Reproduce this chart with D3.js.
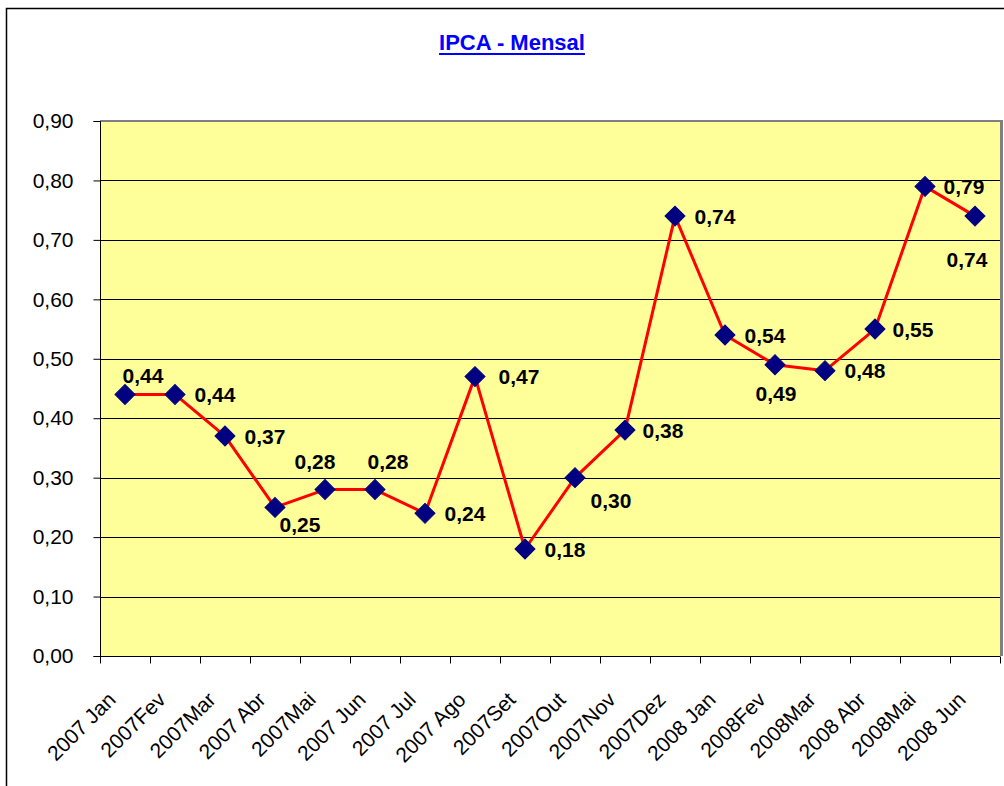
<!DOCTYPE html>
<html>
<head>
<meta charset="utf-8">
<script src="https://cdn.jsdelivr.net/npm/d3@7"></script>
<style>
  html, body { margin: 0; padding: 0; background: #fff; }
  svg { display: block; }
  text { font-family: Arial, "Liberation Sans", sans-serif; }
</style>
</head>
<body>
<script>
// ---- data ----
const categories = ["2007 Jan","2007Fev","2007Mar","2007 Abr","2007Mai","2007 Jun","2007 Jul","2007 Ago","2007Set","2007Out","2007Nov","2007Dez","2008 Jan","2008Fev","2008Mar","2008 Abr","2008Mai","2008 Jun"];
const values = [0.44,0.44,0.37,0.25,0.28,0.28,0.24,0.47,0.18,0.30,0.38,0.74,0.54,0.49,0.48,0.55,0.79,0.74];
const yTicks = [0,0.1,0.2,0.3,0.4,0.5,0.6,0.7,0.8,0.9];
const title = "IPCA - Mensal";
// label placement (layout only): [dx, dy] relative to the marker, label centred
const labelOffset = [[18,-19],[40,0],[40,0],[25,17],[-10,-28],[13,-28],[40,0],[44,0],[40,0],[36,23],[38,0],[40,0],[40,0],[1,29],[40,0],[38,0],[39,0],[-8,43]];

const W = 1004, H = 786;
const svg = d3.select("body").append("svg").attr("width", W).attr("height", H);

// outer frame
svg.append("rect").attr("x", 6.5).attr("y", 8.5).attr("width", 1010).attr("height", 800)
  .attr("fill", "none").attr("stroke", "#000").attr("stroke-width", 1.5);

const x = d3.scaleBand().domain(categories).range([100, 1000]).paddingInner(0).paddingOuter(0);
const y = d3.scaleLinear().domain([0, 0.9]).range([656, 121]);

// plot area
svg.append("rect").attr("x", 100).attr("y", 121).attr("width", 900).attr("height", 535)
  .attr("fill", "#FFFF99");

// gridlines
svg.append("g").selectAll("line").data(yTicks.filter(d => d > 0 && d < 0.9)).join("line")
  .attr("x1", 100).attr("x2", 1000)
  .attr("y1", d => Math.round(y(d)) + 0.5).attr("y2", d => Math.round(y(d)) + 0.5)
  .attr("stroke", "#000").attr("stroke-width", 1);

// top/right gray border
svg.append("line").attr("x1", 100).attr("x2", 1002).attr("y1", 121).attr("y2", 121)
  .attr("stroke", "#808080").attr("stroke-width", 2);
svg.append("line").attr("x1", 1001.5).attr("x2", 1001.5).attr("y1", 120).attr("y2", 656)
  .attr("stroke", "#808080").attr("stroke-width", 3);

// y axis
const yAxis = d3.axisLeft(y).tickValues(yTicks).tickSize(7).tickPadding(20)
  .tickFormat(d => d3.format(".2f")(d).replace(".", ","));
const gy = svg.append("g").attr("transform", "translate(100.5,0)").call(yAxis);
gy.select(".domain").attr("stroke", "#000").attr("d", "M-7,121.5H0V656.5H-7");
gy.selectAll(".tick line").attr("stroke", "#000");
gy.selectAll(".tick text").attr("font-size", 21).attr("fill", "#000")
  .attr("font-family", "Arial, 'Liberation Sans', sans-serif");

// x axis
const gx = svg.append("g").attr("transform", "translate(0,656.5)");
gx.append("line").attr("x1", 100).attr("x2", 1000).attr("y1", 0).attr("y2", 0).attr("stroke", "#000");
const boundaries = categories.map(c => x(c)).concat([x(categories[categories.length - 1]) + x.bandwidth()]);
gx.selectAll("line.tk").data(boundaries).join("line").attr("class", "tk")
  .attr("x1", d => Math.round(d) + 0.5).attr("x2", d => Math.round(d) + 0.5)
  .attr("y1", 0).attr("y2", 7).attr("stroke", "#000");
svg.append("g").selectAll("text").data(categories).join("text")
  .attr("transform", d => `translate(${x(d) + x.bandwidth() / 2 - 8},701) rotate(-45)`)
  .attr("text-anchor", "end")
  .attr("font-size", 21)
  .attr("fill", "#000")
  .text(d => d);

// line
const cx = (d, i) => x(categories[i]) + x.bandwidth() / 2;
const line = d3.line().x((d, i) => cx(d, i)).y(d => y(d));
svg.append("path").datum(values).attr("d", line)
  .attr("fill", "none").attr("stroke", "#FF0000").attr("stroke-width", 3).attr("stroke-linejoin", "round");

// markers
svg.append("g").selectAll("path").data(values).join("path")
  .attr("d", d3.symbol().type(d3.symbolSquare).size(200))
  .attr("transform", (d, i) => `translate(${cx(d, i)},${y(d)}) rotate(45)`)
  .attr("fill", "#000080").attr("stroke", "#000080").attr("stroke-width", 1);

// data labels
svg.append("g").selectAll("text").data(values).join("text")
  .attr("x", (d, i) => cx(d, i) + labelOffset[i][0])
  .attr("y", (d, i) => y(d) + labelOffset[i][1])
  .attr("dy", "0.36em")
  .attr("text-anchor", "middle")
  .attr("font-size", 21).attr("font-weight", "bold").attr("fill", "#000")
  .text(d => d3.format(".2f")(d).replace(".", ","));

// title
const t = svg.append("text").attr("x", 512).attr("y", 50).attr("text-anchor", "middle")
  .attr("font-size", 22).attr("font-weight", "bold").attr("fill", "#0000FF").text(title);
const bb = t.node().getBBox();
svg.append("line").attr("x1", bb.x).attr("x2", bb.x + bb.width).attr("y1", 54).attr("y2", 54)
  .attr("stroke", "#0000FF").attr("stroke-width", 2);
</script>
</body>
</html>
